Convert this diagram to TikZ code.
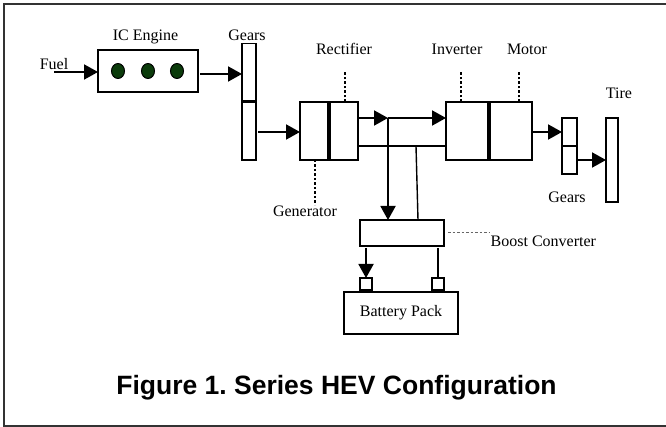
\documentclass[tikz,border=0pt]{standalone}
\usepackage{fontspec}
\setmainfont{Liberation Serif}
\newfontfamily\capfont{Liberation Sans}
\usepackage{xcolor}
\usetikzlibrary{arrows.meta}
\definecolor{cylgreen}{HTML}{0B3B0B}
\tikzset{HEVbox/.style={shape=rectangle,draw,line width=1.9pt,inner sep=0pt,outer sep=0pt},
	HEVtext/.style={inner sep=0pt,font=\fontsize{16pt}{18pt}\selectfont},
	HEVcyl/.style={shape=circle,draw,fill=cylgreen,line width=1pt,inner sep=0pt,minimum size=13pt,yscale=1.15},
	HEVarrow/.style={line width=1.9pt,-{Triangle[length=14pt,width=15pt]}},
	HEVline/.style={line width=1.9pt},
	HEVdot/.style={line width=1.5pt,dash pattern=on 2.5pt off 2pt}}

\begin{document}
\begin{tikzpicture}[x=1pt,y=-1pt]
	\useasboundingbox (0,0) rectangle (666,427);
	\draw[line width=2pt,black!80] (3.5,4.5) rectangle (672,425.5);
	%
	\node[HEVbox,minimum width=100pt,minimum height=42pt] (E) at (148,71) {};
	\node[HEVcyl] (E1) at (118,71) {};
	\node[HEVcyl] (E2) at (148,71) {};
	\node[HEVcyl] (E3) at (177,71) {};
	\node[HEVbox,minimum width=14pt,minimum height=57pt] (G1) at (249,72) {};
	\node[HEVbox,minimum width=14pt,minimum height=58pt] (G2) at (249,131) {};
	\node[HEVbox,minimum width=28pt,minimum height=58pt] (Gen) at (314,131) {};
	\node[HEVbox,minimum width=28pt,minimum height=58pt] (Rec) at (344,131) {};
	\node[HEVbox,minimum width=42pt,minimum height=58pt] (Inv) at (467,131) {};
	\node[HEVbox,minimum width=42pt,minimum height=58pt] (Mot) at (511,131) {};
	\node[HEVbox,minimum width=15pt,minimum height=28pt] (G3) at (569.5,132) {};
	\node[HEVbox,minimum width=15pt,minimum height=28pt] (G4) at (569.5,160) {};
	\node[HEVbox,minimum width=12pt,minimum height=84pt] (T) at (612,160) {};
	\node[HEVbox,minimum width=84pt,minimum height=26pt] (BC) at (402,233) {};
	\node[HEVbox,minimum width=12pt,minimum height=12pt] (P1) at (366,284) {};
	\node[HEVbox,minimum width=12pt,minimum height=12pt] (P2) at (438,284) {};
	\node[HEVbox,minimum width=114pt,minimum height=42pt,font=\fontsize{16pt}{18pt}\selectfont] (B) at (401,313) {Battery Pack};
	%
	\node[HEVtext] (Lfuel) at (54,64) {Fuel};
	\node[HEVtext] (Lic) at (145.5,37) {IC Engine};
	\node[HEVtext] (Lg1) at (247,35) {Gears};
	\node[HEVtext] (Lrec) at (344,49) {Rectifier};
	\node[HEVtext] (Linv) at (457,49) {Inverter};
	\node[HEVtext] (Lmot) at (527,49) {Motor};
	\node[HEVtext] (Ltire) at (619,93) {Tire};
	\node[HEVtext] (Lg2) at (567,197) {Gears};
	\node[HEVtext] (Lgen) at (305,211) {Generator};
	\node[HEVtext,anchor=west] (Lbc) at (490.5,241) {Boost Converter};
	\node[inner sep=0pt,font=\capfont\bfseries\frenchspacing\fontsize{26.5pt}{28pt}\selectfont] (Cap) at (336.5,388) {Figure 1. Series HEV Configuration};
	%
	\coordinate (a0) at (54,72);
	\coordinate (a1) at (98,72);
	\coordinate (a2) at (200,74);
	\coordinate (a3) at (242,74);
	\coordinate (a4) at (258,132);
	\coordinate (a5) at (358,118);
	\coordinate (J) at (388,118);
	\coordinate (a6) at (446,118);
	\coordinate (a7) at (358,146);
	\coordinate (a8) at (446,146);
	\coordinate (J2) at (416,146);
	\coordinate (a9) at (418,220);
	\coordinate (J3) at (388,220);
	\coordinate (a10) at (366,248);
	\coordinate (a11) at (438,248);
	\coordinate (a12) at (532,132);
	\coordinate (a13) at (577,160);
	\coordinate (d1) at (315,160);
	\coordinate (d2) at (315,205);
	\coordinate (d3) at (345,102);
	\coordinate (d4) at (345,72);
	\coordinate (d5) at (461,102);
	\coordinate (d6) at (461,72);
	\coordinate (d7) at (519,102);
	\coordinate (d8) at (519,72);
	\coordinate (d9) at (448,233);
	\coordinate (d10) at (490,233);
	%
	\path[HEVarrow]
	(a0) edge (a1)
	(a2) edge (a3)
	(a4) edge (Gen.west |- a4)
	(a5) edge (J)
	(J) edge (a6)
	(J) edge (J3)
	(a10) edge (P1.north)
	(a12) edge (G3.west |- a12)
	(a13) edge (T.west |- a13);
	\draw[HEVline] (a7) -- (a8);
	\draw[line width=1.4pt] (J2) -- (a9);
	\draw[HEVline] (a11) -- (P2.north);
	\draw[HEVdot] (d1) -- (d2);
	\draw[HEVdot] (d3) -- (d4);
	\draw[HEVdot] (d5) -- (d6);
	\draw[HEVdot] (d7) -- (d8);
	\draw[HEVdot,line width=1pt,black!60] (d9) -- (d10);
\end{tikzpicture}
\end{document}
